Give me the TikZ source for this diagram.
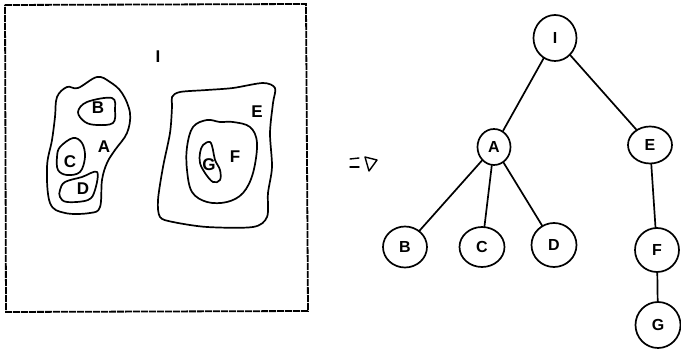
\documentclass[tikz,border=0pt]{standalone}
\usepackage{fontspec}
\setmainfont{Liberation Sans}
\usetikzlibrary{shapes.geometric}
\tikzset{
  ink/.style={line width=1.7pt, line join=round, line cap=round},
  region/.style={ink, draw},
  lbl/.style={font=\fontsize{17}{19}\selectfont\bfseries, inner sep=0pt},
  tnode/.style={ink, draw, ellipse, inner sep=0pt, font=\fontsize{16}{18}\selectfont\bfseries},
  tedge/.style={ink},
  frame/.style={line width=1.8pt, dash pattern=on 7pt off 1pt}
}
\begin{document}
\begin{tikzpicture}[x=1pt, y=-1pt]
\useasboundingbox (0,0) rectangle (681,355);

% ---------- Venn-style region map ----------
\draw[frame] (5,5) -- (306,4) -- (308,311) -- (6,312) -- cycle;
\node[lbl] (lI) at (158,57) {I};

% region A with B, C, D inside
\draw[region] plot[smooth cycle, tension=0.6] coordinates {
  (57,97) (67,87) (78,88) (97,77) (110,82) (122,93) (130,113) (127,133)
  (115,150) (107,163) (102,180) (100,207) (90,213) (65,213) (50,203)
  (47,167) (52,140) (55,117)};
\draw[region] plot[smooth cycle, tension=0.6] coordinates {
  (78,112) (87,102) (112,98) (115,110) (113,123) (97,125) (85,122)};
\draw[region] plot[smooth cycle, tension=0.6] coordinates {
  (57,157) (60,147) (73,138) (82,143) (85,157) (80,172) (67,175) (58,170)};
\draw[region] plot[smooth cycle, tension=0.6] coordinates {
  (60,190) (65,182) (82,177) (97,172) (95,190) (88,200) (67,202) (60,197)};
\node[lbl] (lB) at (98,108) {B};
\node[lbl] (lA) at (104,147) {A};
\node[lbl] (lC) at (70,162) {C};
\node[lbl] (lD) at (83,189) {D};

% region E with F and G inside
\draw[region] plot[smooth cycle, tension=0.5] coordinates {
  (172,97) (180,92) (207,90) (233,88) (263,83) (275,88) (273,103)
  (270,133) (272,167) (268,193) (267,217) (253,227) (207,227) (173,222)
  (160,217) (158,200) (163,167) (170,133) (172,107)};
\draw[region] plot[smooth cycle, tension=0.6] coordinates {
  (187,147) (193,127) (207,120) (220,122) (233,122) (250,127) (257,143)
  (253,173) (243,193) (227,202) (207,202) (192,192) (187,170)};
\draw[region] plot[smooth cycle, tension=0.6] coordinates {
  (200,153) (203,145) (210,142) (213,150) (215,160) (220,170) (220,180)
  (213,182) (205,173) (200,163)};
\node[lbl] (lE) at (257,112) {E};
\node[lbl] (lF) at (235,157) {F};
\node[lbl] (lG) at (209,165) {G};

% ---------- "becomes" sign ----------
\draw[ink, line width=1.4pt] (350,159) -- (359,158);
\draw[ink, line width=1.4pt] (350,167) -- (359,167);
\draw[ink, line width=1.4pt] (365,157) -- (377,160) -- (369,171) -- cycle;

% ---------- tree ----------
\node[tnode, minimum width=43pt, minimum height=46pt] (I) at (555,38) {I};
\node[tnode, minimum width=33pt, minimum height=36pt] (A) at (494,147) {A};
\node[tnode, minimum width=44pt, minimum height=37pt] (E) at (650,145) {E};
\node[tnode, minimum width=44pt, minimum height=41pt] (B) at (405,247) {B};
\node[tnode, minimum width=45pt, minimum height=40pt] (C) at (482,247) {C};
\node[tnode, minimum width=45pt, minimum height=44pt] (D) at (554,245) {D};
\node[tnode, minimum width=44pt, minimum height=44pt] (F) at (657,250) {F};
\node[tnode, minimum width=45pt, minimum height=46pt] (G) at (658,325) {G};

\draw[tedge] (I) -- (A);
\draw[tedge] (I) -- (E);
\draw[tedge] (A) -- (B);
\draw[tedge] (A) -- (C);
\draw[tedge] (A) -- (D);
\draw[tedge] (E) -- (F);
\draw[tedge] (F) -- (G);
\end{tikzpicture}
\end{document}
